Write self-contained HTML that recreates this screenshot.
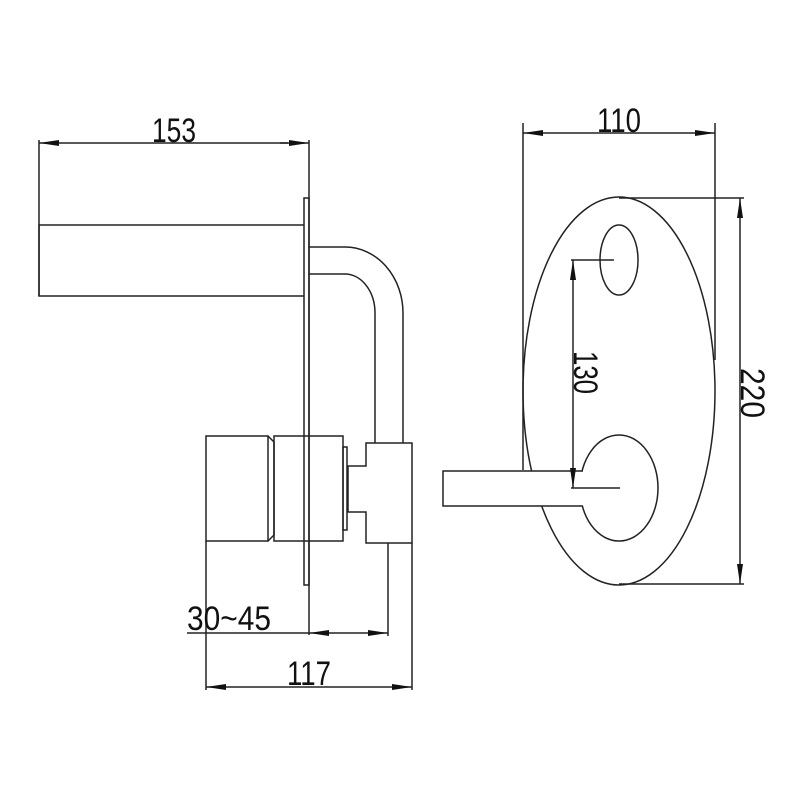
<!DOCTYPE html>
<html><head><style>body{margin:0;background:#fff}svg{display:block}</style></head>
<body>
<svg width="800" height="800" viewBox="0 0 800 800" xmlns="http://www.w3.org/2000/svg">
<defs>
<marker id="a" viewBox="0 0 20 8" refX="20" refY="4" markerWidth="20" markerHeight="8" markerUnits="userSpaceOnUse" orient="auto"><path d="M0,1 L20,4 L0,7 Z" fill="#111"/></marker>
</defs>
<g fill="none" stroke="#222" stroke-width="1.5">
<line x1="39" y1="140" x2="39" y2="296"/>
<line x1="309" y1="140" x2="309" y2="635"/>
<line x1="60" y1="143" x2="39" y2="143" marker-end="url(#a)"/>
<line x1="60" y1="143" x2="288" y2="143"/>
<line x1="280" y1="143" x2="309" y2="143" marker-end="url(#a)"/>
<polyline points="304,225 39,225 39,296 304,296"/>
<rect x="304" y="198" width="5" height="387"/>
<path d="M309,247 H345 A58,66 0 0 1 403,313 V443"/>
<path d="M309,274 H345 A30,39 0 0 1 375,313 V443"/>
<path d="M366,443 H412 V543 H366 V512 H348 V466 H366 Z"/>
<rect x="343" y="447" width="4" height="83"/>
<rect x="206" y="436" width="62" height="105"/>
<path d="M268,436 L274,442 V535 L268,541"/>
<rect x="274" y="436" width="69" height="105"/>
<line x1="206" y1="541" x2="206" y2="690"/>
<line x1="388" y1="543" x2="388" y2="636"/>
<line x1="412" y1="543" x2="412" y2="690"/>
<line x1="187" y1="633" x2="309" y2="633"/>
<line x1="340" y1="633" x2="309" y2="633" marker-end="url(#a)"/>
<line x1="340" y1="633" x2="388" y2="633" marker-end="url(#a)"/>
<line x1="300" y1="687" x2="206" y2="687" marker-end="url(#a)"/>
<line x1="300" y1="687" x2="412" y2="687" marker-end="url(#a)"/>

<line x1="523" y1="123" x2="523" y2="470"/>
<line x1="715" y1="123" x2="715" y2="360"/>
<line x1="620" y1="133" x2="523" y2="133" marker-end="url(#a)"/>
<line x1="620" y1="133" x2="715" y2="133" marker-end="url(#a)"/>
<ellipse cx="619" cy="391" rx="96" ry="194"/>
<ellipse cx="619" cy="260" rx="19" ry="35"/>
<ellipse cx="619" cy="488" rx="39" ry="53"/>
<path d="M583,471 H443 V506 H583" fill="#fff"/>
<line x1="619" y1="198" x2="744" y2="198"/>
<line x1="619" y1="584" x2="744" y2="584"/>
<line x1="740" y1="390" x2="740" y2="198" marker-end="url(#a)"/>
<line x1="740" y1="390" x2="740" y2="584" marker-end="url(#a)"/>
<line x1="571" y1="260" x2="614" y2="260"/>
<line x1="571" y1="488" x2="620" y2="488"/>
<line x1="573" y1="370" x2="573" y2="260" marker-end="url(#a)"/>
<line x1="573" y1="370" x2="573" y2="488" marker-end="url(#a)"/>
</g>
<g font-family="'Liberation Sans', sans-serif" font-size="34" fill="#111">
<text x="152" y="142" textLength="44" lengthAdjust="spacingAndGlyphs">153</text>
<text x="597" y="132" textLength="44" lengthAdjust="spacingAndGlyphs">110</text>
<text x="187" y="630" textLength="84" lengthAdjust="spacingAndGlyphs">30~45</text>
<text x="287" y="685" textLength="44" lengthAdjust="spacingAndGlyphs">117</text>
<text transform="translate(574,351) rotate(90)" textLength="43" lengthAdjust="spacingAndGlyphs">130</text>
<text transform="translate(741,368) rotate(90)" textLength="50" lengthAdjust="spacingAndGlyphs">220</text>
</g>
</svg>
</body></html>
